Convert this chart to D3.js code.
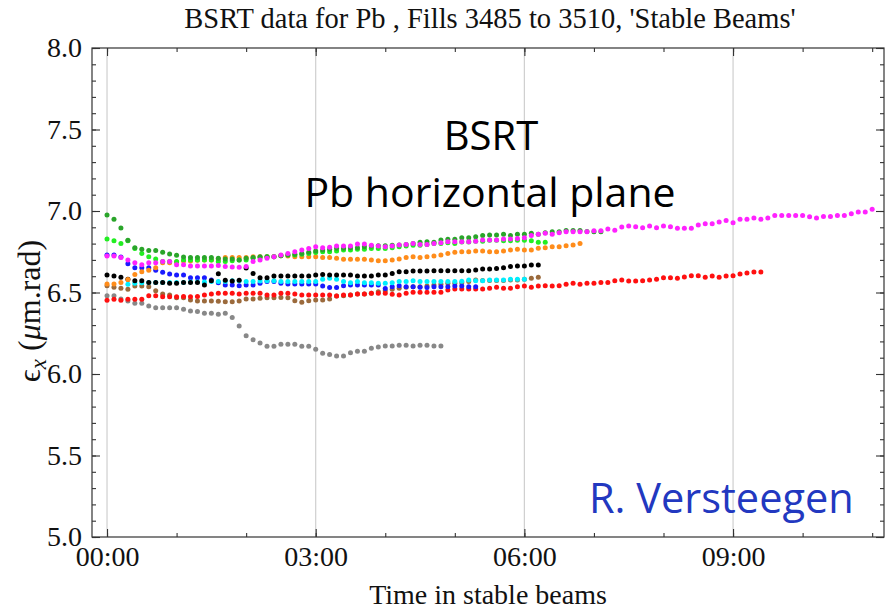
<!DOCTYPE html>
<html><head><meta charset="utf-8">
<script src="https://cdn.jsdelivr.net/npm/d3@7"></script>
<style>body{margin:0;background:#fff}</style>
</head><body>
<svg id="chart" width="887" height="610"></svg>
<script>
// ---- data (emittance in µm.rad, one sample every 0.1 h) ----
const SAMPLE_HOURS = 0.1;
const xTickHours = [0, 3, 6, 9];
const xTickLabels = ["00:00", "03:00", "06:00", "09:00"];
const xMinorHours = [0,1,2,3,4,5,6,7,8,9,10,11];
const yTickValues = [5.0, 5.5, 6.0, 6.5, 7.0, 7.5, 8.0];
const yTickLabels = ["5.0", "5.5", "6.0", "6.5", "7.0", "7.5", "8.0"];

const magentaVals = [
 6.724,6.724,6.714,6.700,6.683,6.670,6.683,6.683,6.690,6.690,6.670,6.670,6.663,6.663,6.663,6.663,6.665,6.660,6.657,6.655,
 6.660,6.690,6.700,6.710,6.720,6.730,6.740,6.750,6.760,6.770,6.781,6.775,6.778,6.785,6.785,6.785,6.798,6.798,6.790,6.785,
 6.781,6.785,6.791,6.795,6.800,6.795,6.795,6.800,6.805,6.812,6.812,6.812,6.812,6.815,6.822,6.822,6.822,6.828,6.828,6.832,6.836,
 6.850,6.857,6.863,6.857,6.867,6.873,6.873,6.873,6.873,6.879,6.879,6.890,6.882,6.902,6.908,6.904,6.898,6.908,6.898,6.908,6.904,
 6.894,6.894,6.894,6.914,6.922,6.922,6.933,6.941,6.928,6.949,6.949,6.957,6.949,6.957,6.973,6.973,6.973,6.973,6.973,6.965,6.957,6.967,6.967,6.973,6.973,6.983,6.994,6.994,7.010];
const greenVals = [
 6.975,6.949,6.896,6.820,6.775,6.765,6.757,6.757,6.747,6.736,6.728,6.718,6.714,6.714,6.714,6.714,6.710,6.706,6.706,6.700,
 6.710,6.715,6.720,6.720,6.720,6.725,6.730,6.734,6.740,6.747,6.755,6.761,6.765,6.771,6.771,6.775,6.775,6.781,6.785,6.787,
 6.787,6.790,6.792,6.795,6.800,6.808,6.812,6.808,6.822,6.826,6.826,6.836,6.836,6.842,6.850,6.853,6.853,6.857,6.850,6.857,6.857,
 6.863,6.857,6.867,6.873,6.873,6.880,6.880,6.880,6.875,6.873,6.873];
const limeVals = [
 6.828,6.818,6.800,6.818,6.770,6.740,6.720,6.706,6.690,6.690,6.690,6.700,6.700,6.700,6.700,6.700,6.690,6.690,6.695,6.700,
 6.700,6.710,6.715,6.720,6.720,6.725,6.730,6.730,6.735,6.740,6.745,6.750,6.750,6.755,6.760,6.760,6.765,6.765,6.770,6.770,
 6.770,6.775,6.780,6.785,6.790,6.790,6.795,6.800,6.800,6.805,6.800,6.810,6.810,6.815,6.815,6.820,6.820,6.818,6.818,6.820,6.820,
 6.818,6.808,6.808];
const orangeVals = [
 6.552,6.552,6.562,6.579,6.611,6.628,6.636,6.652,6.683,6.683,6.687,6.693,6.693,6.698,6.700,6.700,6.706,6.714,6.714,6.714,
 6.714,6.720,6.720,6.720,6.720,6.726,6.724,6.720,6.720,6.720,6.720,6.714,6.714,6.710,6.704,6.704,6.704,6.704,6.700,6.695,
 6.695,6.700,6.706,6.714,6.720,6.714,6.720,6.724,6.730,6.740,6.747,6.750,6.750,6.755,6.755,6.750,6.750,6.755,6.761,6.765,6.761,
 6.761,6.771,6.775,6.781,6.781,6.787,6.791,6.800];
const blackVals = [
 6.607,6.601,6.593,6.581,6.572,6.572,6.562,6.562,6.562,6.556,6.556,6.562,6.562,6.562,6.546,6.572,6.615,6.575,6.570,6.575,
 6.650,6.617,6.591,6.591,6.601,6.601,6.601,6.601,6.601,6.601,6.607,6.611,6.607,6.607,6.607,6.607,6.601,6.601,6.601,6.607,
 6.607,6.617,6.628,6.628,6.632,6.632,6.632,6.634,6.634,6.634,6.634,6.634,6.634,6.638,6.644,6.644,6.648,6.652,6.659,6.663,6.663,
 6.669,6.669];
const cyanStart = 3;
const cyanVals = [
 6.550,6.556,6.560,6.562,6.562,6.562,6.562,6.562,6.562,6.565,6.565,6.565,6.567,6.567,6.567,6.572,6.572,
 6.567,6.567,6.570,6.572,6.572,6.567,6.567,6.567,6.567,6.567,6.567,6.581,6.587,6.581,6.567,6.560,6.567,6.560,6.560,6.556,
 6.556,6.560,6.567,6.567,6.572,6.567,6.567,6.567,6.567,6.567,6.567,6.569,6.577,6.572,6.572,6.577,6.577,6.577,6.581,6.581,6.581];
const blueVals = [
 6.730,6.730,6.718,6.677,6.652,6.652,6.652,6.636,6.624,6.613,6.607,6.607,6.590,6.590,6.590,6.577,6.560,6.546,6.546,6.542,
 6.546,6.546,6.556,6.567,6.567,6.556,6.552,6.552,6.552,6.552,6.552,6.540,6.530,6.530,6.542,6.546,6.546,6.546,6.546,6.546,
 6.524,6.536,6.542,6.536,6.536,6.532,6.530,6.536,6.536,6.536,6.540,6.540,6.536,6.536];
const redVals = [
 6.452,6.458,6.452,6.458,6.458,6.458,6.480,6.480,6.474,6.474,6.474,6.476,6.474,6.476,6.485,6.491,6.495,6.495,6.495,6.491,
 6.495,6.495,6.495,6.485,6.485,6.495,6.495,6.491,6.485,6.485,6.485,6.485,6.485,6.479,6.485,6.485,6.491,6.491,6.495,6.495,
 6.495,6.489,6.485,6.495,6.501,6.501,6.501,6.501,6.501,6.515,6.521,6.521,6.521,6.521,6.521,6.526,6.532,6.526,6.526,6.536,6.540,
 6.532,6.540,6.542,6.540,6.542,6.550,6.556,6.550,6.556,6.556,6.562,6.562,6.572,6.577,6.571,6.571,6.572,6.577,6.581,6.591,6.591,
 6.587,6.595,6.603,6.603,6.593,6.601,6.593,6.601,6.603,6.613,6.620,6.626,6.626];
const brownVals = [
 6.542,6.532,6.526,6.520,6.540,6.540,6.536,6.511,6.491,6.485,6.468,6.468,6.454,6.448,6.448,6.448,6.446,6.444,6.444,6.448,
 6.460,6.460,6.464,6.468,6.468,6.470,6.468,6.450,6.440,6.450,6.454,6.454,6.460,6.479,6.480,6.485,6.491,6.491,6.495,6.505,
 6.510,6.520,6.526,6.532,6.536,6.536,6.540,6.546,6.550,6.556,6.556,6.560,6.567,6.577,6.574,6.574,6.574,6.574,6.577,6.577,6.581,
 6.587,6.593];
const grayVals = [
 6.480,6.480,6.460,6.448,6.434,6.434,6.417,6.407,6.407,6.407,6.407,6.397,6.387,6.383,6.372,6.372,6.366,6.372,6.346,6.295,
 6.235,6.210,6.190,6.170,6.170,6.182,6.182,6.182,6.170,6.170,6.152,6.127,6.120,6.110,6.110,6.130,6.140,6.140,6.158,6.166,6.172,
 6.172,6.176,6.176,6.172,6.176,6.176,6.172,6.172];

const series = [
  {values: grayVals,    start: 0, color: "#888888"},
  {values: brownVals,   start: 0, color: "#9b6a3c"},
  {values: redVals,     start: 0, color: "#ff1010"},
  {values: blueVals,    start: 0, color: "#1a1aff"},
  {values: cyanVals,    start: cyanStart, color: "#00eeff"},
  {values: blackVals,   start: 0, color: "#000000"},
  {values: orangeVals,  start: 0, color: "#ff8c1a"},
  {values: limeVals,    start: 0, color: "#22ee22"},
  {values: greenVals,   start: 0, color: "#2aa52a"},
  {values: magentaVals, start: 0, color: "#ff22ff"}
];

// ---- layout ----
const svg = d3.select("#chart");
const L = 92, R = 884, T = 48, B = 537;
const x = d3.scaleLinear().domain([-0.216, 11.17]).range([L, R]);
const y = d3.scaleLinear().domain([5, 8]).range([B, T]);
const serif = "'Liberation Serif', 'Times New Roman', serif";
const sans = "'Open Sans', 'Noto Sans', sans-serif";
const axisColor = "#333";

// gridlines
svg.append("g").selectAll("line").data(xTickHours).join("line")
  .attr("x1", d => x(d)).attr("x2", d => x(d))
  .attr("y1", T).attr("y2", B)
  .attr("stroke", "#cfcfcf").attr("stroke-width", 1.2);

// points
series.forEach(s => {
  svg.append("g").selectAll("circle").data(s.values).join("circle")
    .attr("cx", (d, i) => x((s.start + i) * SAMPLE_HOURS))
    .attr("cy", d => y(d))
    .attr("r", 2.5)
    .attr("fill", s.color);
});

// frame
svg.append("rect").attr("x", L).attr("y", T).attr("width", R - L).attr("height", B - T)
  .attr("fill", "none").attr("stroke", axisColor).attr("stroke-width", 1.2);

function styleAxis(g) {
  g.select(".domain").remove();
  g.selectAll(".tick line").attr("stroke", axisColor).attr("stroke-width", 1.1);
}
const yMinor = d3.range(50, 81).map(v => v / 10);

// bottom axis
svg.append("g").attr("transform", `translate(0,${B})`)
  .call(d3.axisBottom(x).tickValues(xMinorHours).tickSize(-4).tickFormat(""))
  .call(styleAxis);
svg.append("g").attr("transform", `translate(0,${B})`)
  .call(d3.axisBottom(x).tickValues(xTickHours).tickSize(-8).tickPadding(9)
    .tickFormat((d, i) => xTickLabels[i]))
  .call(styleAxis)
  .call(g => g.selectAll("text").attr("font-family", serif).attr("font-size", 28).attr("fill", "#111"));
// top axis (mirror)
svg.append("g").attr("transform", `translate(0,${T})`)
  .call(d3.axisTop(x).tickValues(xMinorHours).tickSize(-4).tickFormat("")).call(styleAxis);
svg.append("g").attr("transform", `translate(0,${T})`)
  .call(d3.axisTop(x).tickValues(xTickHours).tickSize(-8).tickFormat("")).call(styleAxis);
// left axis
svg.append("g").attr("transform", `translate(${L},0)`)
  .call(d3.axisLeft(y).tickValues(yMinor).tickSize(-4).tickFormat("")).call(styleAxis);
svg.append("g").attr("transform", `translate(${L},0)`)
  .call(d3.axisLeft(y).tickValues(yTickValues).tickSize(-8).tickPadding(10)
    .tickFormat((d, i) => yTickLabels[i]))
  .call(styleAxis)
  .call(g => g.selectAll("text").attr("font-family", serif).attr("font-size", 28).attr("fill", "#111"));
// right axis (mirror)
svg.append("g").attr("transform", `translate(${R},0)`)
  .call(d3.axisRight(y).tickValues(yMinor).tickSize(-4).tickFormat("")).call(styleAxis);
svg.append("g").attr("transform", `translate(${R},0)`)
  .call(d3.axisRight(y).tickValues(yTickValues).tickSize(-8).tickFormat("")).call(styleAxis);

// title
svg.append("text").attr("x", 490).attr("y", 28).attr("text-anchor", "middle")
  .attr("font-family", serif).attr("font-size", 28.5).attr("fill", "#111")
  .text("BSRT data for Pb , Fills 3485 to 3510, 'Stable Beams'");

// x label
svg.append("text").attr("x", 488).attr("y", 604).attr("text-anchor", "middle")
  .attr("font-family", serif).attr("font-size", 28).attr("fill", "#111")
  .text("Time in stable beams");

// y label
const yl = svg.append("text").attr("transform", "translate(40,311) rotate(-90)")
  .attr("text-anchor", "middle").attr("font-family", serif).attr("font-size", 32).attr("fill", "#111");
yl.append("tspan").text("\u03F5");
yl.append("tspan").attr("font-style", "italic").attr("font-size", 23).attr("dy", 6).text("x");
yl.append("tspan").attr("dy", -6).text(" (");
yl.append("tspan").attr("font-style", "italic").text("\u03BC");
yl.append("tspan").text("m.rad)");

// annotations
svg.append("text").attr("x", 491).attr("y", 150).attr("text-anchor", "middle")
  .attr("font-family", sans).attr("font-size", 40).attr("fill", "#000").text("BSRT");
svg.append("text").attr("x", 490).attr("y", 207).attr("text-anchor", "middle")
  .attr("font-family", sans).attr("font-size", 41).attr("fill", "#000").text("Pb horizontal plane");
svg.append("text").attr("x", 589).attr("y", 513)
  .attr("font-family", sans).attr("font-size", 41.5).attr("fill", "#2238c0").text("R. Versteegen");
</script>
</body></html>
